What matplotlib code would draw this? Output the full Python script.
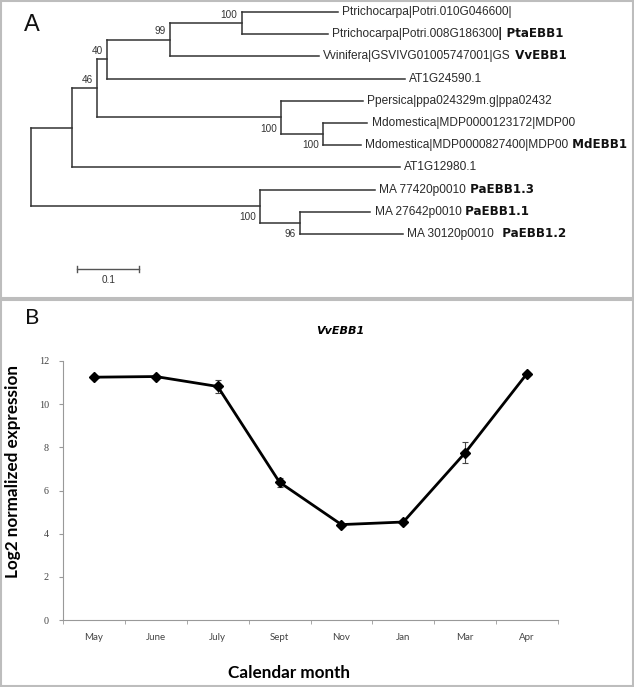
import matplotlib.pyplot as plt
from matplotlib.patches import Rectangle

### Data

# expression panel
months = ['May', 'June', 'July', 'Sept', 'Nov', 'Jan', 'Mar', 'Apr']
expr = [11.25, 11.28, 10.82, 6.38, 4.42, 4.54, 7.75, 11.42]
expr_err = [0.10, 0.06, 0.28, 0.22, 0.08, 0.08, 0.48, 0.06]
yticks = [0, 2, 4, 6, 8, 10, 12]

# tree: internal nodes
node_id = ['root', 'n1', 'n2', 'n3', 'n4', 'n5', 'n6', 'n7', 'n8', 'n9']
node_parent = [None, 'root', 'n1', 'n2', 'n3', 'n4', 'n2', 'n6', 'root', 'n8']
node_len = [0.0, 0.067, 0.040, 0.016, 0.102, 0.115, 0.297, 0.068, 0.370, 0.065]
node_boot = ['', '', '46', '40', '99', '100', '100', '100', '100', '96']
node_side = ['', '', 'up', 'up', 'up', 'up', 'down', 'down', 'down', 'down']

# tree: leaves, top to bottom
leaf_name = ['Ptrichocarpa|Potri.010G046600|',
             'Ptrichocarpa|Potri.008G186300',
             'Vvinifera|GSVIVG01005747001|GS',
             'AT1G24590.1',
             'Ppersica|ppa024329m.g|ppa02432',
             'Mdomestica|MDP0000123172|MDP00',
             'Mdomestica|MDP0000827400|MDP00',
             'AT1G12980.1',
             'MA 77420p0010',
             'MA 27642p0010',
             'MA 30120p0010']
leaf_tag = ['', '| PtaEBB1', ' VvEBB1', '', '', '', ' MdEBB1', '',
            ' PaEBB1.3', ' PaEBB1.1', '  PaEBB1.2']
leaf_parent = ['n5', 'n5', 'n4', 'n3', 'n6', 'n7', 'n7', 'n1', 'n8', 'n9', 'n9']
leaf_len = [0.155, 0.139, 0.240, 0.480, 0.132, 0.071, 0.061, 0.529,
            0.185, 0.113, 0.165]

scale_len = 0.1

### Layout helpers

W, H = 634, 687
fig = plt.figure(figsize=(W / 100, H / 100), dpi=100)
fig.patch.set_facecolor('white')

def fy(py):
    return 1 - py / H

# panel frames
for top, bot in [(1, 298), (300, 686)]:
    fig.patches.append(Rectangle((1 / W, fy(bot)), (W - 2) / W, (bot - top) / H,
                                 transform=fig.transFigure, fill=False,
                                 edgecolor='#bdbdbd', lw=1.5))

### Panel A: tree

# positions: x = distance from root, y = leaf index
xpos = {'root': 0.0}
for n, p, l in zip(node_id, node_parent, node_len):
    if p is not None:
        xpos[n] = xpos[p] + l
children = {n: [] for n in node_id}
for n, p in zip(node_id[1:], node_parent[1:]):
    children[p].append(n)
leaf_x, leaf_y = [], []
for i, (p, l) in enumerate(zip(leaf_parent, leaf_len)):
    leaf_x.append(xpos[p] + l)
    leaf_y.append(i)
    children[p].append(('leaf', i))

def ypos(n):
    if isinstance(n, tuple):
        return leaf_y[n[1]]
    ys = [ypos(c) for c in children[n]]
    return (min(ys) + max(ys)) / 2

ax_t = fig.add_axes([0, fy(298), 1, 298 / H])
ax_t.set_xlim(-30.7 / 620, (W - 30.7) / 620)
ax_t.set_ylim((298 - 12) / 22.2, -12 / 22.2)
ax_t.axis('off')

lc = '#333333'
lw = 1.1
for n, p, b, side in zip(node_id, node_parent, node_boot, node_side):
    ys = [ypos(c) for c in children[n]]
    ax_t.plot([xpos[n], xpos[n]], [min(ys), max(ys)], color=lc, lw=lw)
    if p is not None:
        ax_t.plot([xpos[p], xpos[n]], [ypos(n), ypos(n)], color=lc, lw=lw)
    if b:
        dy = 6 if side == 'up' else -8
        ax_t.annotate(b, (xpos[n], ypos(n)), xytext=(-3, dy),
                      textcoords='offset points', ha='right', va='center',
                      fontsize=7.2, family='Liberation Sans', color='#333333')

for i in range(len(leaf_name)):
    p = leaf_parent[i]
    ax_t.plot([xpos[p], leaf_x[i]], [leaf_y[i], leaf_y[i]], color=lc, lw=lw)
    t = ax_t.annotate(leaf_name[i], (leaf_x[i], leaf_y[i]), xytext=(3, 0),
                      textcoords='offset points', ha='left', va='center',
                      fontsize=8.6, family='Liberation Sans', color='#2a2a2a')
    if leaf_tag[i]:
        ax_t.annotate(leaf_tag[i], xy=(1, 0), xycoords=t, ha='left', va='bottom',
                      fontsize=8.6, family='DejaVu Sans', weight='bold',
                      color='#111111')

# scale bar
sx0, sy = 0.075, (269 - 12) / 22.2
ax_t.plot([sx0, sx0 + scale_len], [sy, sy], color='#555555', lw=1.0)
ax_t.plot([sx0, sx0], [sy - 0.15, sy + 0.15], color='#555555', lw=1.0)
ax_t.plot([sx0 + scale_len] * 2, [sy - 0.15, sy + 0.15], color='#555555', lw=1.0)
ax_t.text(sx0 + scale_len / 2, sy + 0.5, str(scale_len), ha='center', va='center',
          fontsize=7.2, family='Liberation Sans', color='#333333')

fig.text(24 / W, fy(25), 'A', ha='left', va='center', fontsize=17,
         family='Liberation Sans', color='#111111')

### Panel B: expression

ax = fig.add_axes([63 / W, fy(620), (558 - 63) / W, (620 - 361) / H])
x = list(range(len(months)))
ax.errorbar(x, expr, yerr=expr_err, color='black', lw=2.0, marker='D', ms=5.2,
            ecolor='#444444', elinewidth=0.8, capsize=2.5, capthick=0.8)
ax.set_xlim(-0.5, len(months) - 0.5)
ax.set_ylim(0, 12)
ax.set_yticks(yticks)
ax.set_xticks(x)
ax.set_xticklabels(months)
ax.set_xticks([i - 0.5 for i in range(len(months) + 1)], minor=True)
ax.tick_params(axis='x', which='major', length=0, pad=9, labelsize=7,
               labelcolor='#444444')
ax.tick_params(axis='x', which='minor', length=3, color='#999999', direction='out')
ax.tick_params(axis='y', length=3, color='#999999', pad=7, labelsize=7.3,
               labelcolor='#444444')
for lab in ax.get_xticklabels():
    lab.set_family('Lato')
for lab in ax.get_yticklabels():
    lab.set_family('Liberation Serif')
for s in ['top', 'right']:
    ax.spines[s].set_visible(False)
for s in ['left', 'bottom']:
    ax.spines[s].set_color('#999999')
    ax.spines[s].set_linewidth(0.8)

fig.text(340 / W, fy(331), 'VvEBB1', ha='center', va='center', fontsize=8,
         weight='bold', style='italic', family='DejaVu Sans')
fig.text(13 / W, fy(472), 'Log2 normalized expression', rotation=90,
         ha='center', va='center', fontsize=12.3, weight='bold', family='Lato')
fig.text(289 / W, fy(673), 'Calendar month', ha='center', va='center',
         fontsize=12.3, weight='bold', family='Lato')
fig.text(25 / W, fy(318), 'B', ha='left', va='center', fontsize=16,
         family='Lato', color='#111111')

fig.savefig('out.png', dpi=100)
